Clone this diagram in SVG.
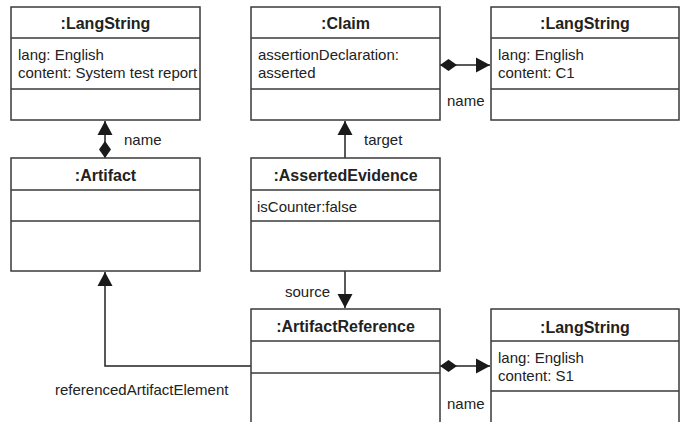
<svg xmlns="http://www.w3.org/2000/svg" width="688" height="422" viewBox="0 0 688 422">
<defs>
<style>
.box{fill:#fff;stroke:#3a3a3a;stroke-width:1.5}
.div{stroke:#3a3a3a;stroke-width:1.5}
.t{font-family:"Liberation Sans",Arial,sans-serif;font-size:16px;font-weight:bold;fill:#222;text-anchor:middle}
.a{font-family:"Liberation Sans",Arial,sans-serif;font-size:15px;fill:#222}
.c{fill:none;stroke:#222;stroke-width:1.5}
</style>
<marker id="arr" markerUnits="userSpaceOnUse" markerWidth="15" markerHeight="16" refX="14" refY="7.5" orient="auto" overflow="visible">
<path d="M0,0 L14,7.5 L0,15 z" fill="#1a1a1a"/>
</marker>
<marker id="dia" markerUnits="userSpaceOnUse" markerWidth="18" markerHeight="13" refX="0" refY="6" orient="auto" overflow="visible">
<path d="M0,6 L8.5,0 L17,6 L8.5,12 z" fill="#1a1a1a"/>
</marker>
</defs>
<rect width="688" height="422" fill="#fff"/>

<g id="connectors">
<path class="c" d="M105,158 L105,121" marker-start="url(#dia)" marker-end="url(#arr)"/>
<path class="c" d="M440,65 L490,65" marker-start="url(#dia)" marker-end="url(#arr)"/>
<path class="c" d="M345,158 L345,121" marker-end="url(#arr)"/>
<path class="c" d="M345,271 L345,308" marker-end="url(#arr)"/>
<path class="c" d="M251,366 L105,366 L105,272" marker-end="url(#arr)"/>
<path class="c" d="M440,366 L490,366" marker-start="url(#dia)" marker-end="url(#arr)"/>
<text class="a" x="124" y="145">name</text>
<text class="a" x="447" y="106">name</text>
<text class="a" x="364" y="145">target</text>
<text class="a" x="285" y="297">source</text>
<text class="a" x="55" y="395">referencedArtifactElement</text>
<text class="a" x="447" y="409">name</text>
</g>

<g id="langstring1">
<rect class="box" x="11" y="7" width="189" height="113"/>
<line class="div" x1="11" y1="38" x2="200" y2="38"/>
<line class="div" x1="11" y1="89" x2="200" y2="89"/>
<text class="t" x="105.5" y="29">:LangString</text>
<text class="a" x="18" y="60">lang: English</text>
<text class="a" x="18" y="78">content: System test report</text>
</g>

<g id="claim">
<rect class="box" x="251" y="7" width="189" height="113"/>
<line class="div" x1="251" y1="38" x2="440" y2="38"/>
<line class="div" x1="251" y1="89" x2="440" y2="89"/>
<text class="t" x="345.5" y="29">:Claim</text>
<text class="a" x="258" y="60">assertionDeclaration:</text>
<text class="a" x="258" y="78">asserted</text>
</g>

<g id="langstring2">
<rect class="box" x="491" y="7" width="188" height="113"/>
<line class="div" x1="491" y1="38" x2="679" y2="38"/>
<line class="div" x1="491" y1="89" x2="679" y2="89"/>
<text class="t" x="585" y="29">:LangString</text>
<text class="a" x="498" y="60">lang: English</text>
<text class="a" x="498" y="78">content: C1</text>
</g>

<g id="artifact">
<rect class="box" x="11" y="158" width="189" height="113"/>
<line class="div" x1="11" y1="190" x2="200" y2="190"/>
<line class="div" x1="11" y1="221" x2="200" y2="221"/>
<text class="t" x="105.5" y="181">:Artifact</text>
</g>

<g id="assertedEvidence">
<rect class="box" x="251" y="158" width="189" height="113"/>
<line class="div" x1="251" y1="190" x2="440" y2="190"/>
<line class="div" x1="251" y1="221" x2="440" y2="221"/>
<text class="t" x="345.5" y="181">:AssertedEvidence</text>
<text class="a" x="257" y="212">isCounter:false</text>
</g>

<g id="artifactReference">
<rect class="box" x="251" y="309" width="189" height="120"/>
<line class="div" x1="251" y1="341" x2="440" y2="341"/>
<line class="div" x1="251" y1="373" x2="440" y2="373"/>
<text class="t" x="345.5" y="332">:ArtifactReference</text>
</g>

<g id="langstring3">
<rect class="box" x="491" y="309" width="188" height="120"/>
<line class="div" x1="491" y1="341" x2="679" y2="341"/>
<line class="div" x1="491" y1="391" x2="679" y2="391"/>
<text class="t" x="585" y="333">:LangString</text>
<text class="a" x="498" y="363">lang: English</text>
<text class="a" x="498" y="381">content: S1</text>
</g>
</svg>
